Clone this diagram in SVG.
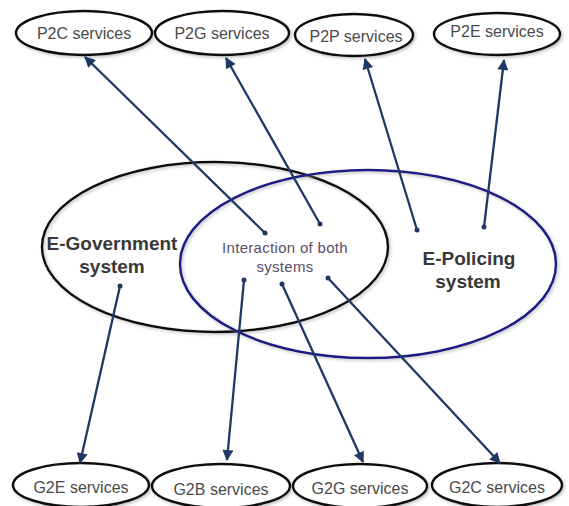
<svg xmlns="http://www.w3.org/2000/svg" width="569" height="506" viewBox="0 0 569 506">
<defs>
<style>
.svc{fill:#fff;stroke:#111;stroke-width:2.5}
.svct{font-family:"Liberation Sans",Arial,sans-serif;font-size:16px;fill:#4a4a4a;text-anchor:middle}
.big{font-family:"Liberation Sans",Arial,sans-serif;font-size:19px;font-weight:bold;fill:#383838;text-anchor:middle}
.mid{font-family:"Liberation Sans",Arial,sans-serif;font-size:15px;fill:#5a4e68;text-anchor:middle;letter-spacing:0.3px}
.conn{stroke:#1f3864;stroke-width:2.3;fill:none;marker-end:url(#ah)}
.dot{fill:#1f3864}
</style>
<marker id="ah" viewBox="0 0 10 10" refX="9" refY="5" markerWidth="12" markerHeight="11" markerUnits="userSpaceOnUse" orient="auto">
<path d="M0,0 L10,5 L0,10 Z" fill="#1f3864"/>
</marker>
<filter id="sh" x="-10%" y="-10%" width="120%" height="120%">
<feDropShadow dx="1.5" dy="1.5" stdDeviation="1.5" flood-color="#999" flood-opacity="0.6"/>
</filter>
</defs>
<rect width="569" height="506" fill="#fff"/>

<g id="egov">
<ellipse cx="215" cy="247" rx="173" ry="85" fill="none" stroke="#111" stroke-width="2.5" filter="url(#sh)"/>
<text class="big" x="112" y="250">E-Government</text>
<text class="big" x="112" y="273">system</text>
</g>
<g id="epol">
<ellipse cx="368" cy="264" rx="188" ry="94" fill="none" stroke="#1c1c86" stroke-width="2.5" filter="url(#sh)"/>
<text class="big" x="469" y="265">E-Policing</text>
<text class="big" x="468" y="288">system</text>
</g>
<g id="inter">
<text class="mid" x="285" y="253">Interaction of both</text>
<text class="mid" x="285" y="272">systems</text>
</g>

<g id="p2c"><ellipse class="svc" cx="84" cy="33" rx="68" ry="22" filter="url(#sh)"/><text class="svct" x="84" y="39">P2C services</text></g>
<g id="p2g"><ellipse class="svc" cx="222" cy="33" rx="67" ry="22" filter="url(#sh)"/><text class="svct" x="222" y="39">P2G services</text></g>
<g id="p2p"><ellipse class="svc" cx="354" cy="35" rx="59" ry="21" filter="url(#sh)"/><text class="svct" x="356" y="42">P2P services</text></g>
<g id="p2e"><ellipse class="svc" cx="497" cy="34" rx="63" ry="21" filter="url(#sh)"/><text class="svct" x="497" y="37">P2E services</text></g>

<g id="g2e"><ellipse class="svc" cx="81" cy="485" rx="68" ry="22" filter="url(#sh)"/><text class="svct" x="81" y="493">G2E services</text></g>
<g id="g2b"><ellipse class="svc" cx="221" cy="486" rx="69" ry="22" filter="url(#sh)"/><text class="svct" x="221" y="495">G2B services</text></g>
<g id="g2g"><ellipse class="svc" cx="360" cy="486" rx="67" ry="22" filter="url(#sh)"/><text class="svct" x="360" y="494">G2G services</text></g>
<g id="g2c"><ellipse class="svc" cx="497" cy="485" rx="65" ry="22" filter="url(#sh)"/><text class="svct" x="497" y="493">G2C services</text></g>

<g id="connectors">
<line class="conn" x1="265" y1="233" x2="85" y2="57"/>
<line class="conn" x1="320" y1="224" x2="226" y2="58"/>
<line class="conn" x1="417" y1="230" x2="365" y2="59"/>
<line class="conn" x1="484" y1="227" x2="504" y2="60"/>
<line class="conn" x1="120" y1="286" x2="80" y2="463"/>
<line class="conn" x1="244" y1="280" x2="227" y2="460"/>
<line class="conn" x1="282" y1="284" x2="363" y2="462"/>
<line class="conn" x1="328" y1="278" x2="500" y2="463"/>
<circle class="dot" cx="265" cy="233" r="2.5"/>
<circle class="dot" cx="320" cy="224" r="2.5"/>
<circle class="dot" cx="417" cy="230" r="2.5"/>
<circle class="dot" cx="484" cy="227" r="2.5"/>
<circle class="dot" cx="120" cy="286" r="2.5"/>
<circle class="dot" cx="244" cy="280" r="2.5"/>
<circle class="dot" cx="282" cy="284" r="2.5"/>
<circle class="dot" cx="328" cy="278" r="2.5"/>
</g>
</svg>
